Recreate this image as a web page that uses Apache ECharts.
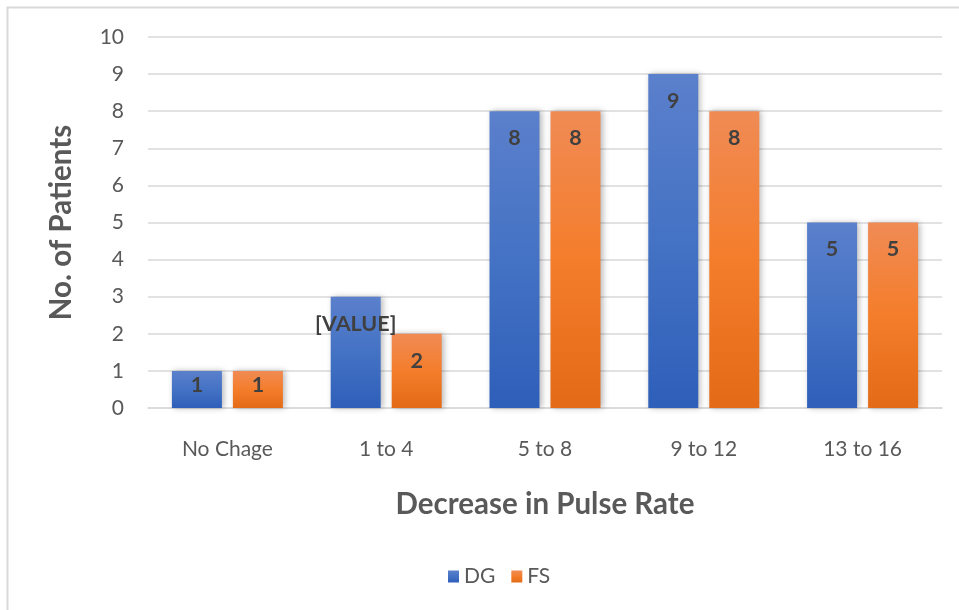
<!DOCTYPE html>
<html>
<head>
<meta charset="utf-8">
<script src="https://cdn.jsdelivr.net/npm/echarts@6/dist/echarts.min.js"></script>
<style>
  html, body { margin: 0; padding: 0; background: #fff; }
  #chart { width: 959px; height: 610px; }
</style>
</head>
<body>
<div id="chart"></div>
<script>
// Patients grouped by decrease in pulse rate
const categories = ['No Chage', '1 to 4', '5 to 8', '9 to 12', '13 to 16'];
const dgValues = [1, 3, 8, 9, 5];
const fsValues = [1, 2, 8, 8, 5];
const dgLabels = ['1', '[VALUE]', '8', '9', '5'];
const fsLabels = ['1', '2', '8', '8', '5'];
const yTicks = [0, 1, 2, 3, 4, 5, 6, 7, 8, 9, 10];

const FONT = 'Lato, "Open Sans", sans-serif';

function grad(top, mid, bottom) {
  return new echarts.graphic.LinearGradient(0, 0, 0, 1, [
    { offset: 0, color: top },
    { offset: 0.5, color: mid },
    { offset: 1, color: bottom }
  ]);
}

function seriesData(values, labels) {
  return values.map((v, i) => ({
    value: v,
    label: {
      formatter: labels[i],
      distance: v <= 1 ? 3 : 16
    }
  }));
}

const labelStyle = {
  show: true,
  position: 'insideTop',
  color: '#404040',
  fontWeight: 'bold',
  fontSize: 21.5,
  fontFamily: FONT
};

const barShadow = {
  shadowColor: 'rgba(0,0,0,0.28)',
  shadowBlur: 6,
  shadowOffsetX: 2,
  shadowOffsetY: 0
};

const chart = echarts.init(document.getElementById('chart'), null, { renderer: 'canvas' });

chart.setOption({
  animation: false,
  backgroundColor: '#ffffff',
  graphic: [{
    type: 'rect',
    shape: { x: 7.5, y: 7.5, width: 1000, height: 700 },
    style: { fill: 'none', stroke: '#d9d9d9', lineWidth: 2 },
    silent: true
  }],
  grid: { left: 148, right: 17, top: 37, bottom: 202, containLabel: false },
  legend: {
    data: ['DG', 'FS'],
    bottom: 18,
    left: 443,
    itemWidth: 11,
    itemHeight: 12,
    itemGap: 16,
    itemTextGap: 7,
    icon: 'rect',
    textStyle: { color: '#595959', fontSize: 21, fontFamily: FONT }
  },
  xAxis: {
    type: 'category',
    data: categories,
    name: 'Decrease in Pulse Rate',
    nameLocation: 'middle',
    nameGap: 81,
    nameTextStyle: { color: '#595959', fontSize: 29.5, fontWeight: 'bold', fontFamily: FONT },
    axisLine: { show: true, lineStyle: { color: '#d9d9d9', width: 1.5 } },
    axisTick: { show: false },
    axisLabel: { color: '#595959', fontSize: 21, fontFamily: FONT, margin: 31 }
  },
  yAxis: {
    type: 'value',
    min: yTicks[0],
    max: yTicks[yTicks.length - 1],
    interval: 1,
    name: 'No. of Patients',
    nameLocation: 'middle',
    nameGap: 72,
    nameTextStyle: { color: '#595959', fontSize: 29.5, fontWeight: 'bold', fontFamily: FONT },
    axisLine: { show: false },
    axisTick: { show: false },
    axisLabel: { color: '#595959', fontSize: 21, fontFamily: FONT, margin: 24 },
    splitLine: { lineStyle: { color: '#d9d9d9', width: 1.5 } }
  },
  series: [
    {
      name: 'DG',
      type: 'bar',
      data: seriesData(dgValues, dgLabels),
      barWidth: 50,
      barGap: '22%',
      itemStyle: Object.assign({ color: grad('#5b80cc', '#4472c4', '#2e5fb9') }, barShadow),
      label: labelStyle
    },
    {
      name: 'FS',
      type: 'bar',
      data: seriesData(fsValues, fsLabels),
      barWidth: 50,
      barGap: '22%',
      itemStyle: Object.assign({ color: grad('#f08b55', '#f47d2b', '#e36b17') }, barShadow),
      label: labelStyle
    }
  ]
});
</script>
</body>
</html>
